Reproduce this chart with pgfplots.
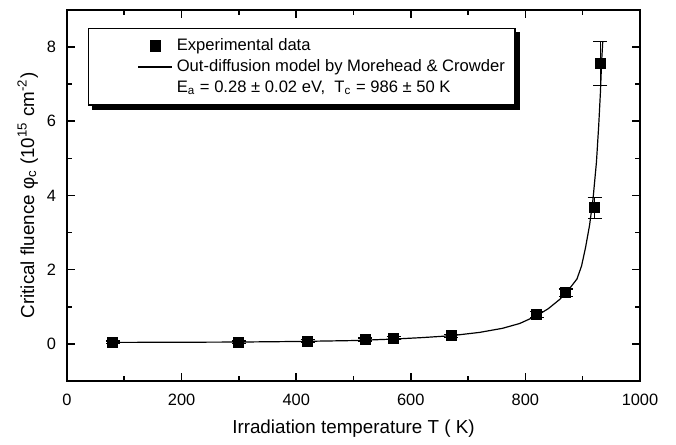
\documentclass[border=0pt]{standalone}
\usepackage{fontspec}
\setmainfont{Liberation Sans}
\usepackage{pgfplots}
\pgfplotsset{compat=1.18}
\begin{document}
\begin{tikzpicture}
\begin{axis}[
name=ax,
width=286.5pt, height=185.5pt, scale only axis,
xmin=0, xmax=1000, ymin=-1, ymax=9,
xtick={0,200,...,1000}, minor xtick={100,300,...,900},
ytick={0,2,...,8}, minor ytick={-1,1,...,7},
tick align=inside,
major tick length=4pt, minor tick length=2.5pt,
axis line style={line width=1pt},
every tick/.style={black, line width=0.8pt},
/pgf/number format/assume math mode=true,
/pgf/number format/1000 sep={},
tick label style={font=\fontsize{8.2}{9}\selectfont},
xticklabel style={yshift=-3pt},
yticklabel style={xshift=-2pt},
label style={font=\fontsize{9.4}{10}\selectfont},
xlabel={Irradiation temperature T ( K)},
ylabel={Critical fluence φ\textsubscript{c} (10\textsuperscript{15} cm\textsuperscript{-2})},
ylabel shift=-2.5pt,
legend cell align=left,
legend image code/.code={\path (-0.75cm,0cm) (0.6cm,0cm);
  \draw[mark repeat=2,mark phase=2,#1] plot coordinates {(0cm,0cm) (0.3cm,0cm) (0.6cm,0cm)};},
legend style={name=leg, at={(0.037,0.952)}, anchor=north west, draw=black, line width=0.6pt,
  fill=white, inner xsep=3pt, inner ysep=3pt, row sep=-1pt,
  font=\fontsize{8.3}{9.8}\selectfont},
]
\addplot[black, only marks, mark=square*, mark size=2.5pt,
  error bars/.cd, y dir=both, y explicit,
  error mark=-,
  error bar style={line width=0.5pt},
  error mark options={black, rotate=90, mark size=3.5pt, line width=0.6pt}]
table[y error=e] {
x y e
80 0.05 0.03
300 0.05 0.03
420 0.08 0.03
520 0.12 0.04
570 0.15 0.04
670 0.22 0.04
820 0.80 0.08
870 1.38 0.10
921 3.67 0.28
931 7.56 0.60
};
\addlegendentry{Experimental data}
\addplot[black, line width=0.6pt] table {
x y
80 0.04
200 0.045
300 0.05
400 0.065
500 0.09
570 0.13
620 0.17
670 0.22
720 0.31
760 0.42
790 0.55
820 0.76
840 0.95
860 1.2
870 1.37
880 1.55
890 1.75
898 2.1
905 2.6
912 3.2
918 3.9
924 4.9
928 5.9
931 6.8
933 7.6
935 8.15
};
\addlegendentry{Out-diffusion model by Morehead \& Crowder}
\addlegendimage{empty legend}
\addlegendentry{E\textsubscript{a} = 0.28 ± 0.02 eV,\ \ T\textsubscript{c} = 986 ± 50 K}
\end{axis}
% legend shadow
\fill[black] ([xshift=0.3pt,yshift=-2pt]leg.north east) rectangle ([xshift=2.3pt,yshift=-2.3pt]leg.south east);
\fill[black] ([xshift=2pt,yshift=-0.3pt]leg.south west) rectangle ([xshift=2.3pt,yshift=-2.3pt]leg.south east);
\pgfresetboundingbox
\path ([xshift=-33.5pt,yshift=-32pt]ax.south west) rectangle ([xshift=18pt,yshift=5pt]ax.north east);
\end{tikzpicture}
\end{document}
